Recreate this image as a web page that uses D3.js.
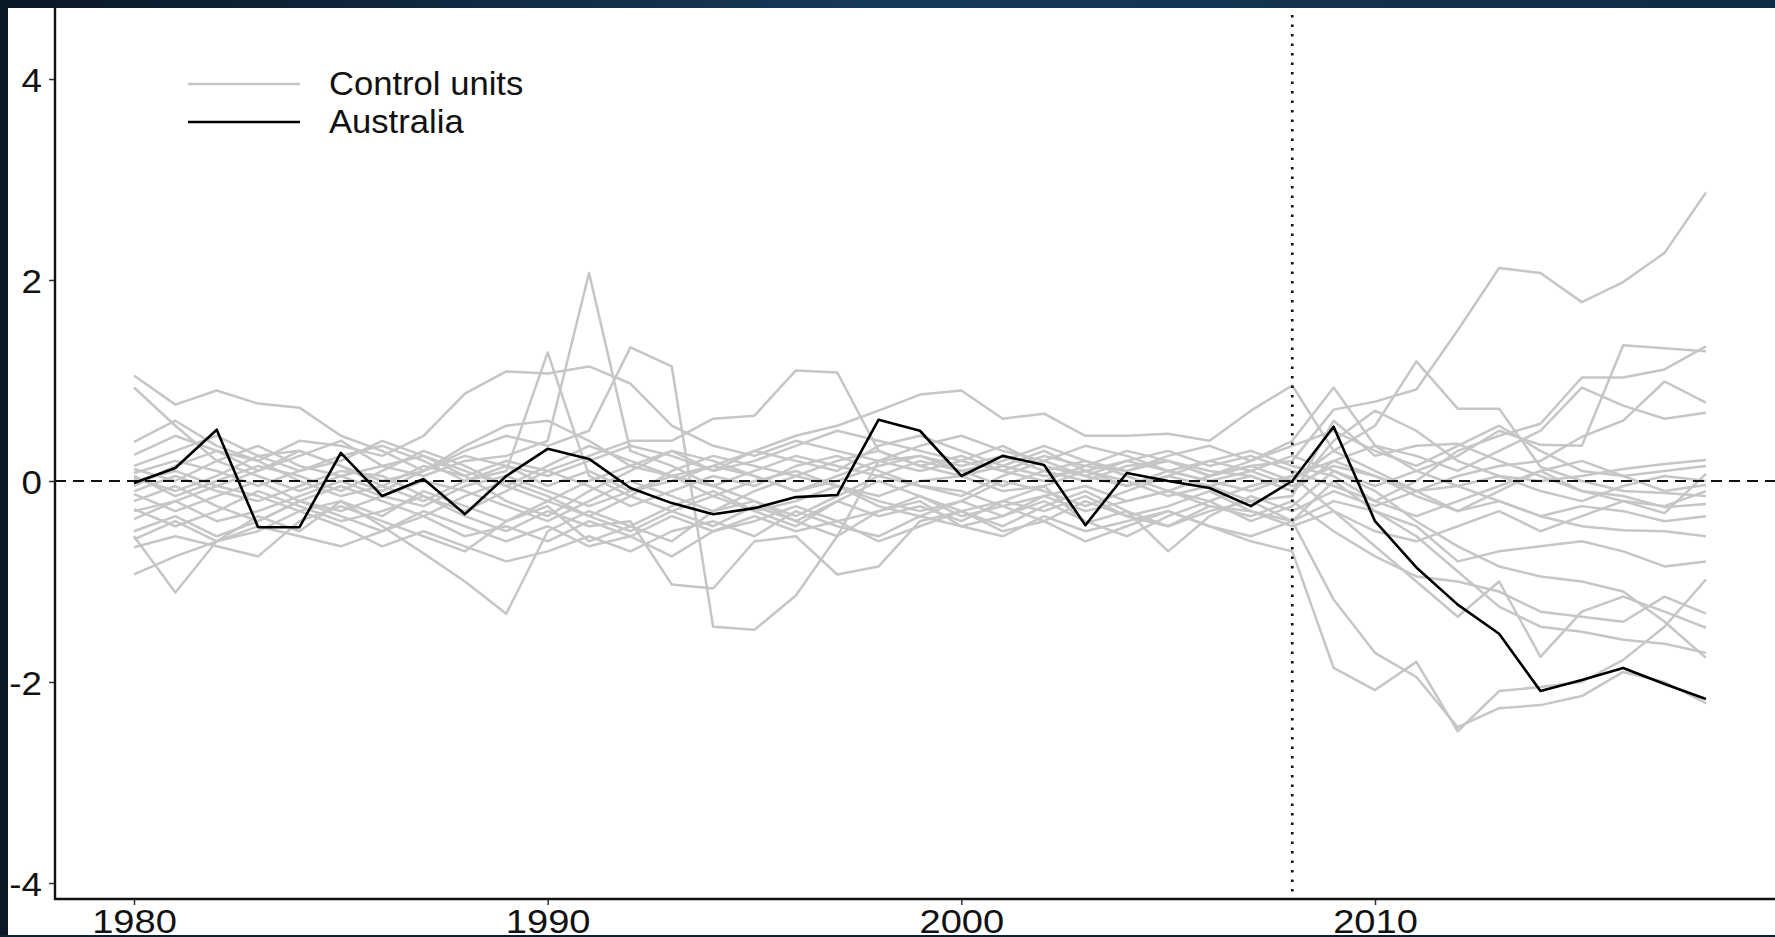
<html>

<head>
    <script src="https://d3js.org/d3.v7.min.js"></script>
    <style>
        body {
            margin: 0;
            background: #0c1e30;
            overflow: hidden;
        }

        .tick-label {
            font-family: "Liberation Sans", Arial, sans-serif;
            font-size: 34px;
            fill: #111;
        }
    </style>
</head>

<body>
    <svg id="chart" width="1775" height="937"></svg>
    <script>
        // years of the panel
        const years = [1980, 1981, 1982, 1983, 1984, 1985, 1986, 1987, 1988, 1989,
            1990, 1991, 1992, 1993, 1994, 1995, 1996, 1997, 1998, 1999,
            2000, 2001, 2002, 2003, 2004, 2005, 2006, 2007, 2008, 2009,
            2010, 2011, 2012, 2013, 2014, 2015, 2016, 2017, 2018];
        const treatmentYear = 2008;
        const xTicks = [1980, 1990, 2000, 2010];
        const yTicks = [-4, -2, 0, 2, 4];
        const legendLabels = ["Control units", "Australia"];

        const australia = [-0.02, 0.13, 0.51, -0.46, -0.46, 0.28, -0.15, 0.02, -0.33, 0.05,
            0.32, 0.22, -0.07, -0.22, -0.33, -0.27, -0.16, -0.14, 0.61, 0.50,
            0.05, 0.25, 0.16, -0.44, 0.08, 0.00, -0.07, -0.25, 0.00, 0.54,
            -0.40, -0.86, -1.23, -1.52, -2.09, -1.98, -1.86, -2.02, -2.17];

        const control01 = [1.05, 0.76, 0.90, 0.77, 0.73, 0.45, 0.30, 0.10, 0.35, 0.55,
            0.60, 0.40, 0.15, 0.30, 0.10, 0.20, 0.35, 0.50, 0.40, 0.30,
            0.20, 0.10, 0.25, 0.15, 0.10, 0.20, 0.05, 0.15, 0.20, 0.71,
            0.79, 0.91, 1.50, 2.12, 2.07, 1.78, 1.98, 2.27, 2.87];
        const control02 = [0.93, 0.55, 0.20, 0.05, -0.10, 0.05, 0.15, 0.25, 0.10, -0.05,
            0.15, 0.35, 0.20, 0.05, 0.15, 0.30, 0.20, 0.10, 0.35, 0.45,
            0.30, 0.15, 0.05, 0.10, 0.20, 0.10, 0.00, 0.10, 0.25, 0.10,
            -0.05, 0.10, 0.25, 0.50, 0.36, 0.35, 1.35, 1.32, 1.29];
        const control03 = [0.39, 0.60, 0.35, 0.20, 0.40, 0.35, 0.25, 0.45, 0.87, 1.09,
            1.07, 1.14, 0.97, 0.55, 0.35, 0.25, 0.40, 0.30, 0.20, 0.35,
            0.45, 0.30, 0.20, 0.35, 0.25, 0.10, 0.20, 0.30, 0.15, 0.05,
            -0.20, 0.00, 0.30, 0.45, 0.57, 1.03, 1.03, 1.11, 1.34];
        const control04 = [0.26, 0.45, 0.30, 0.10, 0.25, 0.40, 0.15, 0.05, 0.20, 0.25,
            0.40, 2.07, 0.30, 0.15, -0.05, 0.10, 0.25, 0.15, 0.05, 0.20,
            0.10, -0.05, 0.10, 0.20, 0.05, -0.10, 0.05, 0.15, 0.00, 0.30,
            0.10, -0.10, 0.05, 0.15, 0.20, 0.44, 0.60, 0.99, 0.78];
        const control05 = [0.12, 0.00, 0.20, 0.35, 0.15, 0.05, -0.10, 0.10, 0.30, 0.45,
            0.35, 0.50, 1.33, 1.14, -1.45, -1.48, -1.14, -0.55, 0.20, 0.25,
            0.15, 0.25, 0.10, 0.00, 0.15, 0.20, 0.10, 0.05, -0.10, 0.20,
            0.35, 0.25, 0.10, 0.30, 0.50, 0.93, 0.75, 0.62, 0.68];
        const control06 = [0.08, 0.20, 0.10, -0.05, 0.10, 0.25, 0.35, 0.20, 0.00, 0.10,
            1.28, 0.05, -0.15, 0.10, 0.25, 0.15, 0.05, 0.20, 0.30, 0.15,
            0.05, 0.15, 0.30, 0.10, -0.05, 0.05, 0.20, 0.10, -0.05, 0.15,
            0.05, -0.10, -0.05, 0.05, 0.00, 0.05, 0.12, 0.17, 0.21];
        const control07 = [0.03, -0.10, 0.05, 0.25, 0.30, 0.15, 0.00, 0.10, 0.25, 0.15,
            0.05, 0.20, 0.35, 0.25, 0.10, 0.30, 0.45, 0.55, 0.70, 0.86,
            0.90, 0.62, 0.67, 0.45, 0.45, 0.47, 0.40, 0.70, 0.95, 0.30,
            0.55, 1.19, 0.72, 0.72, 0.14, 0.00, -0.10, -0.12, -0.15];
        const control08 = [-0.05, 0.15, 0.30, 0.20, 0.00, -0.15, -0.05, 0.15, 0.05, -0.20,
            -0.35, -0.10, 0.10, 0.30, 0.20, 0.05, -0.10, 0.05, 0.20, 0.10,
            0.20, 0.35, 0.15, 0.05, 0.20, 0.30, 0.15, 0.25, 0.10, -0.05,
            -0.20, -0.35, -0.20, -0.05, 0.10, -0.10, -0.20, -0.32, 0.07];
        const control09 = [-0.10, 0.05, -0.10, -0.20, -0.05, 0.10, 0.05, -0.15, -0.30, -0.10,
            0.10, -0.05, -0.25, -0.10, 0.05, -0.05, 0.15, 0.25, 0.10, -0.05,
            -0.15, 0.05, 0.20, 0.05, -0.05, 0.10, 0.00, -0.10, 0.05, 0.20,
            0.05, -0.15, -0.30, -0.10, 0.10, 0.20, 0.05, -0.10, -0.04];
        const control10 = [-0.13, -0.30, -0.15, 0.00, -0.20, -0.30, -0.15, 0.00, -0.10, -0.25,
            -0.40, -0.20, 0.00, -0.15, -0.30, -0.10, 0.05, -0.05, -0.20, -0.30,
            -0.20, 0.00, -0.10, -0.25, -0.10, 0.05, -0.05, -0.20, -0.15, 0.60,
            0.25, 0.35, 0.37, 0.20, 0.05, -0.10, -0.15, -0.26, -0.23];
        const control11 = [-0.20, -0.05, -0.25, -0.40, -0.20, -0.05, -0.20, -0.35, -0.15, 0.00,
            -0.15, -0.35, -0.50, -0.30, -0.15, -0.30, -0.45, -0.20, 0.00, -0.15,
            -0.30, -0.20, -0.05, -0.42, -0.30, -0.70, -0.35, -0.15, -0.30, -0.10,
            -0.25, -0.10, -0.30, -0.20, -0.35, -0.45, -0.49, -0.50, -0.55];
        const control12 = [-0.28, -0.45, -0.30, -0.10, -0.25, -0.40, -0.30, -0.15, -0.35, -0.50,
            -0.30, -0.45, -0.40, -1.03, -1.07, -0.60, -0.55, -0.93, -0.85, -0.40,
            -0.30, -0.45, -0.25, -0.10, -0.30, -0.45, -0.30, -0.20, -0.40, 0.00,
            -0.30, -0.45, -0.80, -0.70, -0.65, -0.60, -0.70, -0.85, -0.80];
        const control13 = [-0.38, -0.20, -0.05, -0.15, -0.30, -0.20, -0.45, -0.72, -1.00, -1.32,
            -0.50, -0.30, -0.45, -0.25, -0.10, -0.30, -0.20, -0.05, -0.25, -0.35,
            -0.20, -0.35, -0.15, -0.30, -0.20, -0.10, -0.25, -0.35, -0.20, -0.50,
            -0.75, -0.95, -1.00, -1.10, -1.30, -1.35, -1.40, -1.15, -1.32];
        const control14 = [-0.50, -0.35, -0.55, -0.40, -0.20, -0.35, -0.50, -0.30, -0.45, -0.60,
            -0.45, -0.65, -0.55, -0.35, -0.50, -0.40, -0.25, -0.40, -0.30, -0.15,
            -0.35, -0.25, -0.40, -0.20, -0.35, -0.25, -0.10, -0.30, -0.45, -0.30,
            -0.65, -1.00, -1.35, -1.00, -1.75, -1.30, -1.15, -1.30, -1.46];
        const control15 = [-0.58, -0.40, -0.60, -0.50, -0.30, -0.45, -0.65, -0.50, -0.65, -0.80,
            -0.70, -0.55, -0.70, -0.50, -0.40, -0.55, -0.30, -0.45, -0.55, -0.35,
            -0.45, -0.55, -0.35, -0.50, -0.40, -0.30, -0.45, -0.55, -0.40, -0.20,
            -0.30, -0.55, -0.90, -1.25, -1.45, -1.50, -1.58, -1.62, -1.71];
        const control16 = [-0.66, -0.55, -0.65, -0.75, -0.40, -0.25, -0.40, -0.55, -0.70, -0.40,
            -0.25, -0.60, -0.45, -0.60, -0.30, -0.20, -0.40, -0.55, -0.30, -0.20,
            -0.45, -0.35, -0.20, -0.40, -0.55, -0.35, -0.20, -0.40, -0.25, 0.10,
            -0.10, -0.40, -0.65, -0.85, -0.95, -1.00, -1.10, -1.40, -1.76];
        const control17 = [-0.93, -0.75, -0.60, -0.45, -0.55, -0.65, -0.50, -0.35, -0.55, -0.45,
            -0.60, -0.40, -0.55, -0.75, -0.50, -0.35, -0.50, -0.40, -0.60, -0.45,
            -0.30, -0.50, -0.40, -0.60, -0.45, -0.30, -0.45, -0.60, -0.70, -1.86,
            -2.08, -1.80, -2.49, -2.09, -2.05, -2.00, -1.78, -1.45, -0.98];
        const control18 = [-0.55, -1.11, -0.60, -0.35, -0.50, -0.20, -0.35, -0.10, -0.25, -0.40,
            -0.20, -0.35, -0.15, -0.30, -0.45, -0.25, -0.40, -0.20, -0.35, -0.25,
            -0.40, -0.20, -0.30, -0.15, -0.35, -0.45, -0.25, -0.30, -0.40, -1.18,
            -1.71, -1.95, -2.45, -2.26, -2.23, -2.14, -1.90, -2.00, -2.21];
        const control19 = [0.15, 0.30, 0.45, 0.25, 0.10, 0.20, 0.40, 0.25, 0.05, 0.20,
            0.10, 0.25, 0.40, 0.40, 0.62, 0.65, 1.10, 1.08, 0.30, 0.15,
            0.25, 0.10, 0.00, 0.15, 0.30, 0.20, 0.05, 0.20, 0.35, 0.50,
            0.30, 0.15, 0.35, 0.55, 0.30, 0.10, 0.05, 0.10, 0.15];
        const control20 = [0.00, 0.10, -0.05, 0.10, 0.30, 0.15, -0.05, -0.20, 0.00, 0.15,
            -0.05, 0.10, -0.10, 0.00, 0.15, 0.05, -0.10, 0.00, 0.15, 0.25,
            0.10, 0.20, 0.35, 0.20, 0.10, 0.25, 0.35, 0.20, 0.40, 0.93,
            0.35, 0.10, -0.05, -0.20, -0.35, -0.25, -0.30, -0.40, -0.35];
        const control21 = [0.05, -0.15, 0.00, 0.15, 0.05, -0.10, 0.10, 0.30, 0.15, -0.05,
            -0.20, 0.00, 0.15, 0.05, -0.15, 0.00, 0.10, -0.05, -0.15, 0.00,
            0.05, -0.10, -0.05, 0.10, 0.00, -0.15, -0.05, 0.05, -0.10, 0.40,
            0.70, 0.50, 0.20, 0.05, -0.10, -0.20, -0.05, 0.05, 0.00];
        const control22 = [-0.30, -0.20, -0.40, -0.30, -0.15, 0.00, -0.15, -0.25, -0.05, 0.05,
            -0.10, -0.25, -0.10, 0.05, -0.05, -0.20, -0.35, -0.15, 0.05, -0.05,
            -0.10, -0.25, -0.15, -0.05, -0.20, -0.10, -0.20, -0.05, 0.05, -0.30,
            -0.50, -0.60, -0.45, -0.30, -0.50, -0.35, -0.20, -0.25, -0.10];

        const controlUnits = [control01, control02, control03, control04, control05, control06,
            control07, control08, control09, control10, control11, control12, control13,
            control14, control15, control16, control17, control18, control19, control20,
            control21, control22];

        const svg = d3.select("#chart");
        const width = +svg.attr("width");
        const height = +svg.attr("height");

        // slide background behind the white panel
        const defs = svg.append("defs");
        const grad = defs.append("linearGradient").attr("id", "bg")
            .attr("x1", "0").attr("y1", "0").attr("x2", "1").attr("y2", "0");
        grad.append("stop").attr("offset", "0%").attr("stop-color", "#0a1826");
        grad.append("stop").attr("offset", "50%").attr("stop-color", "#163a5a");
        grad.append("stop").attr("offset", "100%").attr("stop-color", "#0f2a44");
        svg.append("rect").attr("width", width).attr("height", height).attr("fill", "url(#bg)");

        const panel = { left: 8, top: 8, right: width, bottom: 935 };
        svg.append("rect")
            .attr("x", panel.left).attr("y", panel.top)
            .attr("width", panel.right - panel.left).attr("height", panel.bottom - panel.top)
            .attr("fill", "white");

        const x = d3.scaleLinear().domain([1980, 2010]).range([134, 1375]);
        const y = d3.scaleLinear().domain([-4, 4]).range([883, 79]);
        const axisX = 55, axisY = 899;

        const line = d3.line()
            .x((d, i) => x(years[i]))
            .y(d => y(d));

        const plot = svg.append("g");

        plot.selectAll("path.control").data(controlUnits)
            .join("path")
            .attr("class", "control")
            .attr("d", line)
            .attr("fill", "none")
            .attr("stroke", "#c6c6c6")
            .attr("stroke-width", 2.5)
            .attr("stroke-linejoin", "round");

        // reference lines
        plot.append("line")
            .attr("x1", axisX).attr("x2", width)
            .attr("y1", y(0)).attr("y2", y(0))
            .attr("stroke", "#111").attr("stroke-width", 2.2)
            .attr("stroke-dasharray", "11,7");

        plot.append("line")
            .attr("x1", x(treatmentYear)).attr("x2", x(treatmentYear))
            .attr("y1", 15).attr("y2", axisY)
            .attr("stroke", "#111").attr("stroke-width", 2.6)
            .attr("stroke-dasharray", "2.6,6.9");

        plot.append("path").datum(australia)
            .attr("d", line)
            .attr("fill", "none")
            .attr("stroke", "black")
            .attr("stroke-width", 2.6)
            .attr("stroke-linejoin", "round");

        // axes (plain hyphen for negatives, like the original)
        const yAxis = d3.axisLeft(y).tickValues(yTicks).tickSize(6).tickFormat(d => String(d));
        const xAxis = d3.axisBottom(x).tickValues(xTicks).tickSize(6).tickFormat(d => String(d));

        const gy = svg.append("g").attr("transform", `translate(${axisX},0)`).call(yAxis);
        gy.select(".domain").remove();
        gy.selectAll(".tick line").attr("stroke", "#333").attr("stroke-width", 1.5);
        gy.selectAll(".tick text")
            .attr("class", "tick-label")
            .attr("font-size", null).attr("font-family", null)
            .attr("x", null).attr("dy", null)
            .attr("dominant-baseline", "central")
            .attr("transform", "translate(-13,0) scale(1.08,1)");

        const gx = svg.append("g").attr("transform", `translate(0,${axisY})`).call(xAxis);
        gx.select(".domain").remove();
        gx.selectAll(".tick line").attr("stroke", "#333").attr("stroke-width", 1.5);
        gx.selectAll(".tick text")
            .attr("class", "tick-label")
            .attr("font-size", null).attr("font-family", null)
            .attr("y", null).attr("dy", null)
            .attr("transform", "translate(0,34) scale(1.12,1)");

        svg.append("line")
            .attr("x1", axisX).attr("x2", axisX)
            .attr("y1", panel.top).attr("y2", axisY + 1)
            .attr("stroke", "#111").attr("stroke-width", 2.4);
        svg.append("line")
            .attr("x1", axisX - 1).attr("x2", width)
            .attr("y1", axisY).attr("y2", axisY)
            .attr("stroke", "#111").attr("stroke-width", 2.4);

        // legend
        const legend = svg.append("g");
        const legendColors = ["#c6c6c6", "black"];
        const legendY = [84, 122];
        legend.selectAll("line").data(legendLabels)
            .join("line")
            .attr("x1", 188).attr("x2", 300)
            .attr("y1", (d, i) => legendY[i]).attr("y2", (d, i) => legendY[i])
            .attr("stroke", (d, i) => legendColors[i])
            .attr("stroke-width", 2.7);
        legend.selectAll("text").data(legendLabels)
            .join("text")
            .attr("class", "tick-label")
            .style("font-size", "32.5px")
            .attr("transform", (d, i) => `translate(329,${legendY[i] + 11}) scale(1.065,1)`)
            .text(d => d);

        // bottom frame edge
        svg.append("rect")
            .attr("x", 0).attr("y", panel.bottom)
            .attr("width", width).attr("height", height - panel.bottom)
            .attr("fill", "#0c2033");
    </script>
</body>

</html>
